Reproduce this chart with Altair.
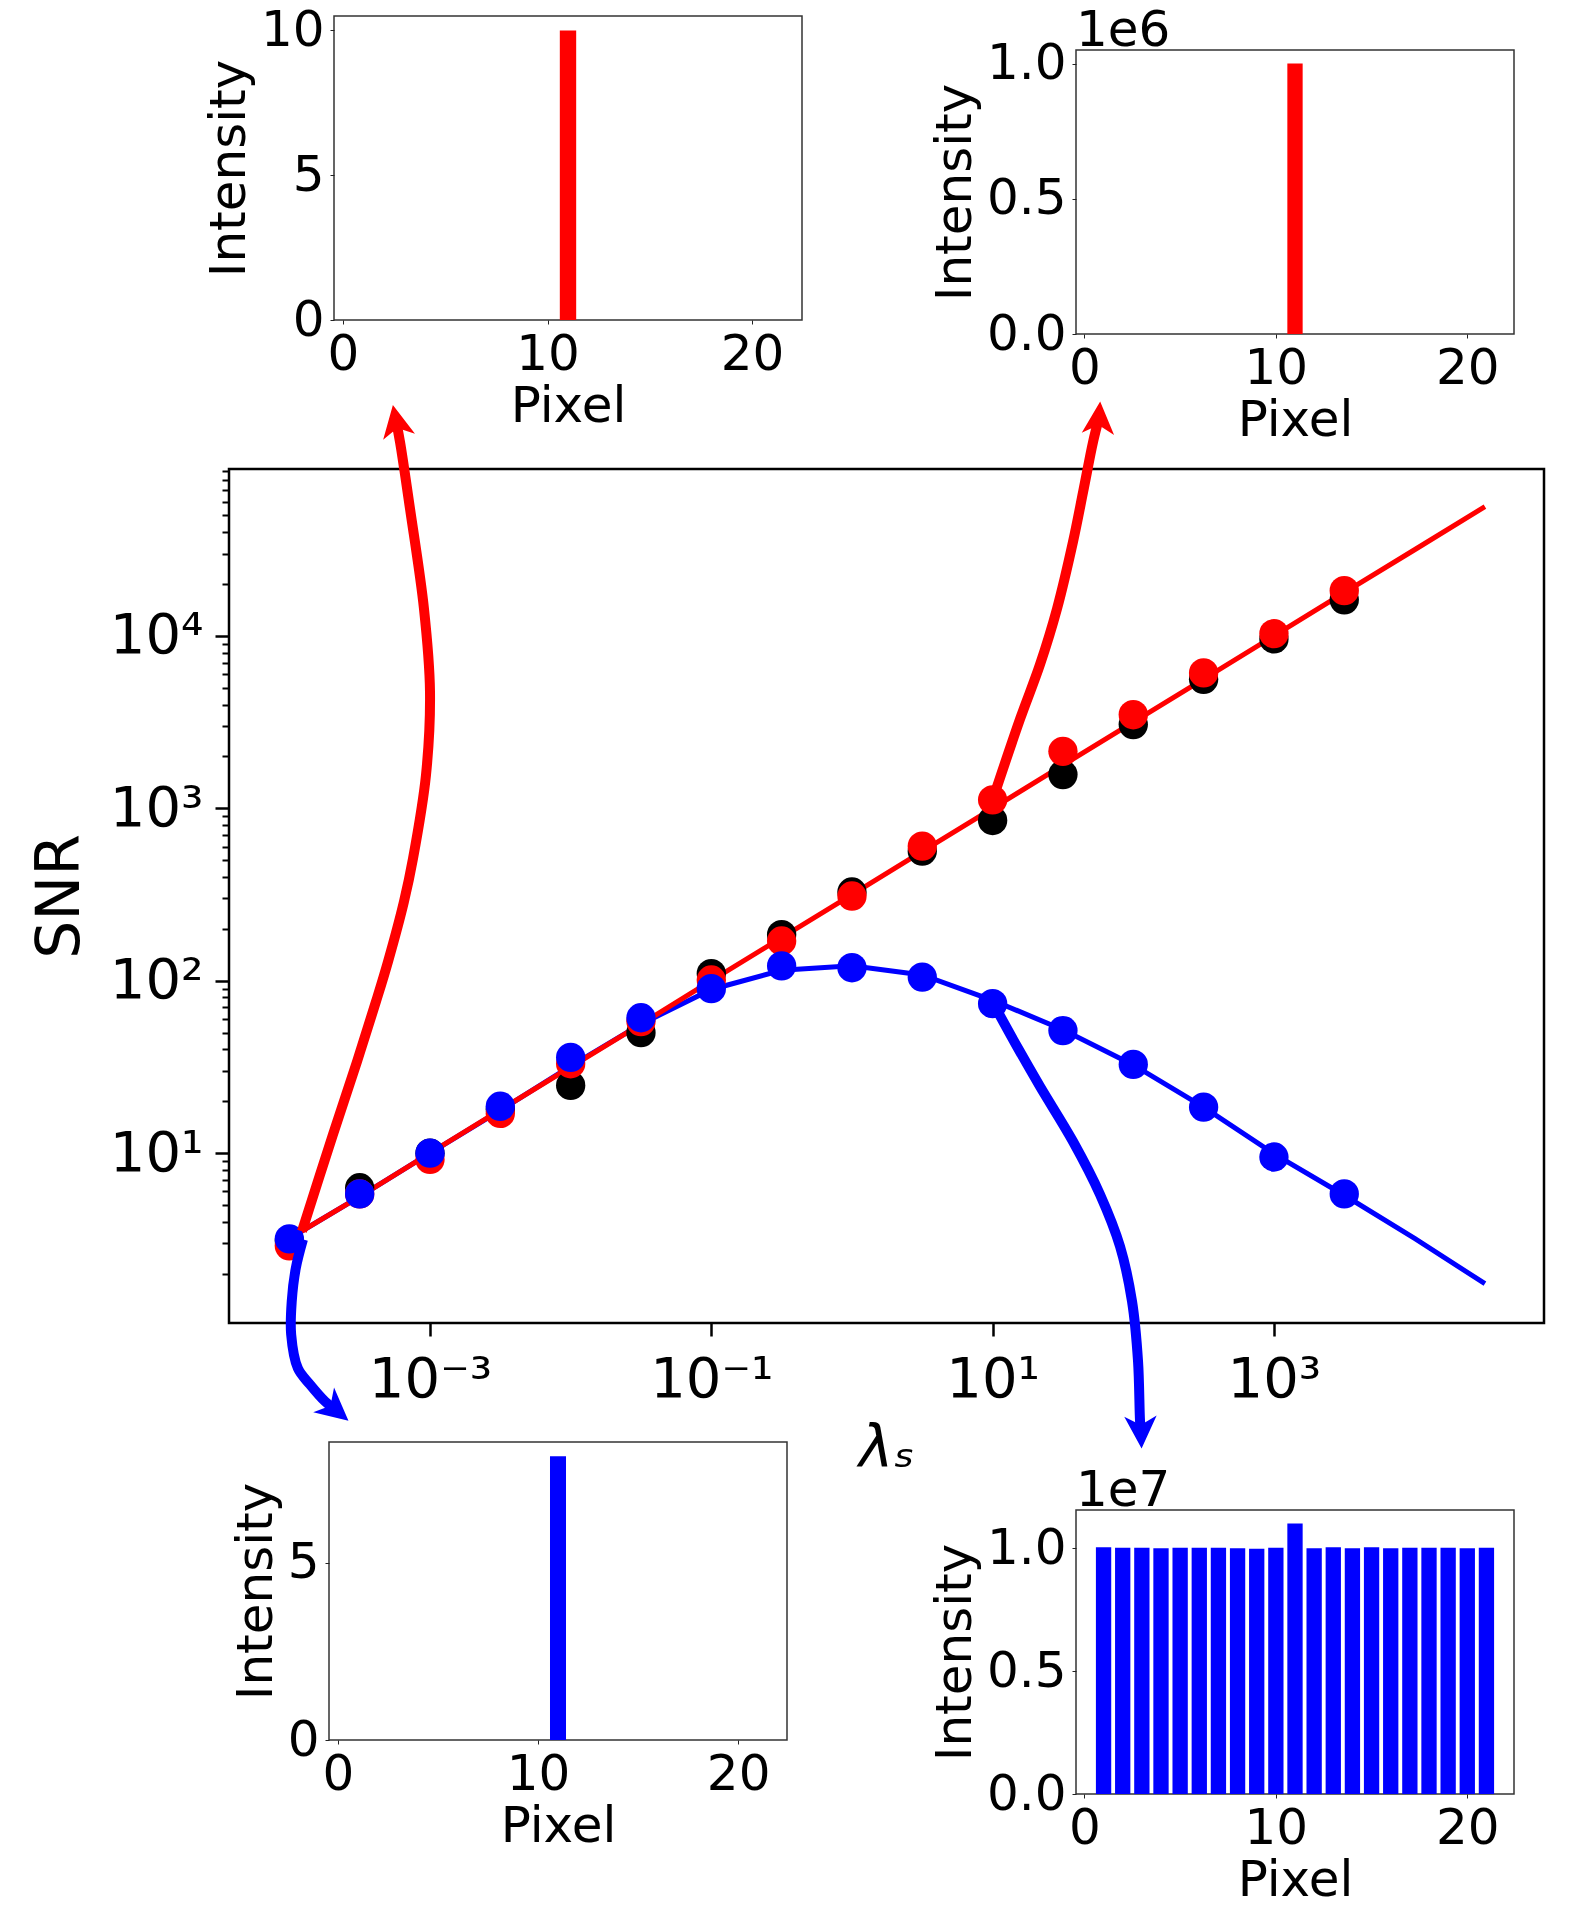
import altair as alt
import pandas as pd

FONT = "DejaVu Sans"

# ---------------- main panel data ----------------
lam_pts = [1e-4, 3.162e-4, 1e-3, 3.162e-3, 1e-2, 3.162e-2, 0.1, 0.3162, 1.0, 3.162,
           10.0, 31.62, 100.0, 316.2, 1000.0, 3162.0]
snr_black = [3.1, 6.3, 10.0, 18.0, 24.7, 50.0, 110.0, 185.0, 327.0, 565.0,
             850.0, 1570.0, 3060.0, 5600.0, 9600.0, 16200.0]
snr_red = [2.9, 5.8, 9.2, 17.0, 33.0, 58.0, 101.0, 170.0, 310.0, 604.0,
           1120.0, 2140.0, 3490.0, 6100.0, 10300.0, 18300.0]
snr_blue = [3.18, 5.8, 10.0, 18.7, 35.9, 61.0, 90.0, 122.0, 119.0, 105.0,
            73.6, 51.4, 32.7, 18.5, 9.5, 5.8]

lam_line = [1e-4, 3.162e-4, 1e-3, 3.162e-3, 1e-2, 3.162e-2, 0.1, 0.3162, 1.0, 3.162,
            10.0, 31.62, 100.0, 316.2, 1000.0, 3162.0, 10000.0, 31623.0]
snr_line_red = [3.2, 5.6, 10.0, 17.8, 31.6, 56.0, 100.0, 178.0, 316.0, 562.0,
                1000.0, 1780.0, 3160.0, 5620.0, 10000.0, 17800.0, 31600.0, 56200.0]
snr_line_blue = [3.2, 5.6, 10.0, 17.7, 32.0, 56.0, 89.0, 115.0, 122.0, 108.0,
                 77.0, 52.0, 32.5, 18.5, 9.9, 5.7, 3.2, 1.75]

# annotation arrows (in lambda / SNR units of the main panel)
red_arrow1_lam = [1.23e-4, 2.04e-4, 3.03e-4, 4.13e-4, 5.03e-4, 6.53e-4, 7.57e-4, 9.37e-4,
                  1.0e-3, 9.06e-4, 7.21e-4, 6.12e-4, 5.73e-4]
red_arrow1_snr = [3.52, 12.8, 34.0, 75.7, 129.2, 287.8, 510.9, 1568.0,
                  4748.0, 14380.0, 54620.0, 133600.0, 176800.0]
red_arrow2_lam = [10.07, 15.7, 21.7, 28.7, 37.3, 44.0, 51.8, 57.1]
red_arrow2_snr = [1138.0, 3311.0, 6808.0, 14380.0, 35200.0, 68500.0, 133700.0, 184100.0]
blue_arrow1_lam = [1.25e-4, 1.11e-4, 1.04e-4, 1.03e-4, 1.15e-4, 1.40e-4, 1.79e-4, 2.148e-4]
blue_arrow1_snr = [3.16, 2.14, 1.38, 0.889, 0.565, 0.456, 0.364, 0.3224]
blue_arrow2_lam = [10.4, 14.91, 21.73, 37.29, 58.02, 80.5, 97.97, 108.1, 111.7, 113.5]
blue_arrow2_snr = [70.8, 41.55, 24.36, 11.69, 5.763, 2.878, 1.381, 0.620, 0.279, 0.2404]

head_lam = [5.73e-4, 57.1, 2.148e-4, 113.5]
head_snr = [176800.0, 184100.0, 0.3224, 0.2404]
head_angle = [349, 4, 130, 178]
head_color = ["#ff0000", "#ff0000", "#0000ff", "#0000ff"]

# ---------------- inset data ----------------
pixels = [1, 2, 3, 4, 5, 6, 7, 8, 9, 10, 11, 12, 13, 14, 15, 16, 17, 18, 19, 20, 21]
inset_tl = [0, 0, 0, 0, 0, 0, 0, 0, 0, 0, 10, 0, 0, 0, 0, 0, 0, 0, 0, 0, 0]
inset_tr = [0, 0, 0, 0, 0, 0, 0, 0, 0, 0, 1.0e6, 0, 0, 0, 0, 0, 0, 0, 0, 0, 0]
inset_bl = [0, 0, 0, 0, 0, 0, 0, 0, 0, 0, 8, 0, 0, 0, 0, 0, 0, 0, 0, 0, 0]
inset_br = [1.003e7, 1.001e7, 1.001e7, 0.999e7, 1.001e7, 1.001e7, 1.001e7, 0.999e7,
            0.997e7, 1.001e7, 1.100e7, 0.999e7, 1.003e7, 0.999e7, 1.003e7, 0.999e7,
            1.001e7, 1.001e7, 1.001e7, 0.999e7, 1.001e7]

x_ticks_main = [1e-3, 1e-1, 10, 1000]
y_ticks_major = [10, 100, 1000, 10000]
y_ticks_minor = [2, 3, 4, 5, 6, 7, 8, 9, 20, 30, 40, 50, 60, 70, 80, 90,
                 200, 300, 400, 500, 600, 700, 800, 900,
                 2000, 3000, 4000, 5000, 6000, 7000, 8000, 9000,
                 20000, 30000, 40000, 50000, 60000, 70000, 80000, 90000]

RED = "#ff0000"
BLUE = "#0000ff"

# ---------------- main panel ----------------
x_scale = alt.Scale(type="log", domain=[3.724e-5, 83180], nice=False)
y_scale = alt.Scale(type="log", domain=[1.035, 92900], nice=False)

x_axis = alt.Axis(values=x_ticks_main,
                  labelExpr="datum.value < 0.005 ? '10⁻³' : datum.value < 0.5 ? '10⁻¹' : datum.value < 50 ? '10¹' : '10³'",
                  title="λₛ", titleFontStyle="italic", titleFontWeight="normal",
                  titleFontSize=58, titlePadding=13, labelFontSize=56, labelPadding=16,
                  tickSize=13, tickWidth=2.5, tickColor="black", labelColor="black",
                  titleColor="black", domain=False, grid=False, labelFlush=False,
                  labelOverlap=False, labelFont=FONT, titleFont=FONT)
X = alt.X("lam:Q", scale=x_scale, axis=x_axis)

y_major = alt.Axis(values=y_ticks_major, orient="left",
                   labelExpr="datum.value < 50 ? '10¹' : datum.value < 500 ? '10²' : datum.value < 5000 ? '10³' : '10⁴'",
                   title="SNR", titleFontWeight="normal", titleFontSize=60, titlePadding=18,
                   labelFontSize=56, labelPadding=12, tickSize=14, tickWidth=2.5,
                   tickColor="black", labelColor="black", titleColor="black",
                   domain=False, grid=False, labelOverlap=False, labelFont=FONT, titleFont=FONT)
y_minor = alt.Axis(values=y_ticks_minor, orient="left", labels=False, title=None,
                   tickSize=7, tickWidth=2, tickColor="black", domain=False, grid=False)


def frame(d):
    return pd.DataFrame(d)


line_df = frame({"lam": lam_line, "red": snr_line_red, "blue": snr_line_blue})

blue_line = alt.Chart(line_df).mark_line(color=BLUE, strokeWidth=5, clip=False).encode(
    x=X, y=alt.Y("blue:Q", scale=y_scale, axis=y_major))
red_line = alt.Chart(line_df).mark_line(color=RED, strokeWidth=5, clip=False).encode(
    x=X, y=alt.Y("red:Q", scale=y_scale, axis=y_minor))


def dots(vals, color):
    df = frame({"lam": lam_pts, "snr": vals})
    return alt.Chart(df).mark_circle(color=color, size=860, opacity=1).encode(
        x=X, y=alt.Y("snr:Q", scale=y_scale, axis=None))


def arrow(lams, snrs, color):
    df = frame({"lam": lams, "snr": snrs, "i": list(range(len(lams)))})
    return alt.Chart(df).mark_line(color=color, strokeWidth=10, clip=False,
                                   interpolate="catmull-rom", strokeCap="butt").encode(
        x=X, y=alt.Y("snr:Q", scale=y_scale, axis=None), order="i:Q")


heads_df = frame({"lam": head_lam, "snr": head_snr, "ang": head_angle, "col": head_color})
heads = alt.Chart(heads_df).mark_point(
    shape="M0,-1L1,1L0,0.45L-1,1Z", filled=True, size=1050, opacity=1, clip=False,
    strokeWidth=0).encode(
    x=X, y=alt.Y("snr:Q", scale=y_scale, axis=None),
    angle=alt.Angle("ang:Q", scale=None),
    color=alt.Color("col:N", scale=None))

main = alt.layer(
    blue_line, red_line,
    dots(snr_black, "black"), dots(snr_red, RED), dots(snr_blue, BLUE),
    arrow(red_arrow1_lam, red_arrow1_snr, RED),
    arrow(red_arrow2_lam, red_arrow2_snr, RED),
    arrow(blue_arrow1_lam, blue_arrow1_snr, BLUE),
    arrow(blue_arrow2_lam, blue_arrow2_snr, BLUE),
    heads,
).resolve_axis(y="independent").properties(
    width=1315, height=854,
    view=alt.ViewBackground(stroke="black", strokeWidth=2.5))


# ---------------- insets ----------------
def inset(vals, color, w, h, ymax, yvals, label_expr=None, exp=None):
    df = frame({"pixel": pixels, "val": vals})
    yax = dict(values=yvals, title="Intensity", titleFontWeight="normal", titleFontSize=50,
               titlePadding=6, labelFontSize=50, labelPadding=6, tickSize=4, tickWidth=1,
               tickColor="#222", labelColor="black", titleColor="black", domain=False,
               grid=False, labelOverlap=False, labelFont=FONT, titleFont=FONT)
    if label_expr:
        yax["labelExpr"] = label_expr
    yaxis = alt.Axis(**yax)
    xaxis = alt.Axis(values=[0, 10, 20], title="Pixel", titleFontWeight="normal", titleFontSize=50,
                     titlePadding=2, labelFontSize=50, labelPadding=5, tickSize=4, tickWidth=1,
                     tickColor="#222", labelColor="black", titleColor="black", domain=False,
                     grid=False, labelFlush=False, labelOverlap=False, labelFont=FONT,
                     titleFont=FONT)
    xs = alt.Scale(domain=[-0.44, 22.44], nice=False, zero=False)
    ys = alt.Scale(domain=[0, ymax], nice=False)
    bars = alt.Chart(df).transform_calculate(
        x0="datum.pixel - 0.4", x1="datum.pixel + 0.4"
    ).mark_bar(color=color).encode(
        x=alt.X("x0:Q", scale=xs, axis=xaxis),
        x2="x1:Q",
        y=alt.Y("val:Q", scale=ys, axis=yaxis),
        y2=alt.datum(0),
    )
    layers = [bars]
    if exp:
        tdf = frame({"x0": [-0.44], "val": [ymax], "t": [exp]})
        txt = alt.Chart(tdf).mark_text(align="left", baseline="alphabetic", dy=-4, fontSize=50,
                                       font=FONT, color="black", clip=False).encode(
            x=alt.X("x0:Q", scale=xs, axis=xaxis),
            y=alt.Y("val:Q", scale=ys, axis=yaxis),
            text="t:N")
        layers.append(txt)
    return alt.layer(*layers).properties(
        width=w, height=h, view=alt.ViewBackground(stroke="#333", strokeWidth=1.5))


def spacer(w, h):
    return alt.Chart(frame({"v": [w * 1000 + h]})).mark_point(opacity=0).encode(
        x=alt.value(0), y=alt.value(0)).properties(
        width=w, height=h,
        view=alt.ViewBackground(stroke="white", strokeOpacity=0, strokeWidth=0))


ins_tl = inset(inset_tl, RED, 468, 304, 10.5, [0, 5, 10])
ins_tr = inset(inset_tr, RED, 438, 284, 1.05e6, [0, 5e5, 1e6],
               "format(datum.value / 1e6, '.1f')", "1e6")
ins_bl = inset(inset_bl, BLUE, 458, 298, 8.4, [0, 5])
ins_br = inset(inset_br, BLUE, 438, 284, 1.155e7, [0, 5e6, 1e7],
               "format(datum.value / 1e7, '.1f')", "1e7")

row1 = alt.hconcat(
    spacer(105, 1), ins_tl, spacer(274, 1),
    alt.vconcat(spacer(1, 34), ins_tr, spacing=0, bounds="flush"),
    spacing=0, bounds="flush")
row3 = alt.hconcat(
    spacer(100, 1), ins_bl, spacer(289, 1),
    alt.vconcat(spacer(1, 68), ins_br, spacing=0, bounds="flush"),
    spacing=0, bounds="flush")

chart = alt.vconcat(row1, spacer(1, 453), main, spacer(1, 119), row3,
                    spacing=0, bounds="flush").configure_view(
    stroke="transparent").configure(font=FONT).properties(
    background="white", padding={"left": 21, "top": -4, "right": 10, "bottom": 10})

chart.save("out.html", embed_options={"renderer": "svg", "actions": False})
